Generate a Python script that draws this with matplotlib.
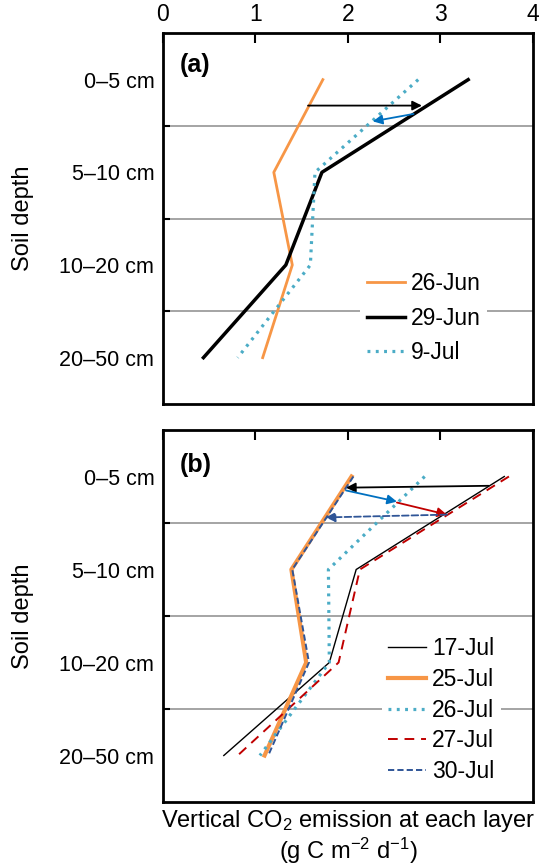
import numpy as np
import matplotlib
matplotlib.use("Agg")
import matplotlib.pyplot as plt

plt.rcParams['font.family'] = ['Liberation Sans', 'DejaVu Sans']
plt.rcParams['mathtext.fontset'] = 'custom'
plt.rcParams['mathtext.rm'] = 'Liberation Sans'
plt.rcParams['mathtext.it'] = 'Liberation Sans'
plt.rcParams['mathtext.default'] = 'regular'

# depth layers (top to bottom)
depths = ["0\u20135 cm", "5\u201310 cm", "10\u201320 cm", "20\u201350 cm"]

# panel (a): vertical CO2 emission (g C m-2 d-1)
jun26 = [1.73, 1.20, 1.40, 1.08]
jun29 = [3.30, 1.72, 1.33, 0.44]
jul09 = [2.76, 1.645, 1.595, 0.81]

# panel (b)
jul17 = [3.69, 2.09, 1.80, 0.66]
jul25 = [2.04, 1.39, 1.55, 1.10]
jul26 = [2.83, 1.79, 1.80, 1.05]
jul27 = [3.74, 2.13, 1.90, 0.81]
jul30 = [2.06, 1.40, 1.58, 1.14]

# arrows: (x_start, y_start, x_end, y_end, colour, linestyle), y in layer units
arrows_a = [(1.57, 0.28, 2.80, 0.28, "black", "-"),
            (2.71, 0.37, 2.27, 0.45, "#0070c0", "-")]
arrows_b = [(3.52, 0.10, 1.98, 0.12, "black", "-"),
            (1.98, 0.15, 2.53, 0.27, "#0070c0", "-"),
            (2.53, 0.28, 3.07, 0.41, "#c00000", "-"),
            (3.07, 0.41, 1.76, 0.44, "#2f5597", "--")]

ORANGE = "#f79646"
CYAN = "#4bacc6"
RED = "#c00000"
NAVY = "#2f5597"
DOTS = (0, (0.9, 1.7))

W, H = 541, 868
fig = plt.figure(figsize=(W / 100, H / 100), dpi=100)

def px_axes(left, top, right, bottom):
    return fig.add_axes([left / W, 1 - bottom / H, (right - left) / W, (bottom - top) / H])

ax_a = px_axes(162.7, 33.3, 533, 404)
ax_b = px_axes(162.7, 430, 533, 802)

ypos = np.arange(len(depths))

def style_axes(ax, show_xlabels):
    ax.set_xlim(0, 4)
    ax.set_ylim(3.5, -0.5)
    ax.set_yticks(ypos)
    ax.set_yticklabels(depths, fontsize=15.5)
    ax.set_yticks([0.5, 1.5, 2.5], minor=True)
    ax.tick_params(axis='y', which='major', length=0, pad=6)
    ax.tick_params(axis='y', which='minor', direction='in', length=5, width=1.5)
    ax.grid(True, axis='y', which='minor', color='#8c8c8c', lw=1.1)
    ax.set_xticks([0, 1, 2, 3, 4])
    ax.xaxis.set_ticks_position('top')
    ax.tick_params(axis='x', direction='in', length=7, width=1.5, pad=5,
                   labelsize=16.5, labeltop=show_xlabels, labelbottom=False)
    for s in ax.spines.values():
        s.set_linewidth(2)
    ax.set_axisbelow(True)

def draw_arrows(ax, arrows):
    for x0, y0, x1, y1, c, ls in arrows:
        ax.annotate("", xy=(x1, y1), xytext=(x0, y0),
                    arrowprops=dict(arrowstyle='-|>', color=c, lw=1.3, ls=ls,
                                    mutation_scale=14, shrinkA=0, shrinkB=0))

def white_legend(ax, anchor, spacing):
    leg = ax.legend(loc='upper left', bbox_to_anchor=anchor, borderaxespad=0,
                    fontsize=16.5, handlelength=1.65, handletextpad=0.25,
                    labelspacing=spacing, borderpad=0.3, frameon=True, fancybox=False)
    leg.get_frame().set_facecolor('white')
    leg.get_frame().set_edgecolor('none')
    leg.get_frame().set_alpha(1)

# ---- panel (a)
style_axes(ax_a, True)
ax_a.plot(jun26, ypos, color=ORANGE, lw=2, label="26-Jun")
ax_a.plot(jun29, ypos, color="black", lw=2.5, label="29-Jun")
ax_a.plot(jul09, ypos, color=CYAN, lw=2.3, ls=DOTS, label="9-Jul")
draw_arrows(ax_a, arrows_a)
ax_a.text(0.045, 0.915, "(a)", transform=ax_a.transAxes, fontsize=18,
          fontweight='bold', va='center', ha='left')
white_legend(ax_a, (0.533, 0.374), 0.5)

# ---- panel (b)
style_axes(ax_b, False)
ax_b.plot(jul17, ypos, color="black", lw=1, label="17-Jul")
ax_b.plot(jul25, ypos, color=ORANGE, lw=3, label="25-Jul")
ax_b.plot(jul26, ypos, color=CYAN, lw=2.3, ls=DOTS, label="26-Jul")
ax_b.plot(jul27, ypos, color=RED, lw=1.4, ls=(0, (5, 3.5)), label="27-Jul")
ax_b.plot(jul30, ypos, color=NAVY, lw=1.4, ls=(0, (3.2, 1.6)), label="30-Jul")
draw_arrows(ax_b, arrows_b)
ax_b.text(0.045, 0.906, "(b)", transform=ax_b.transAxes, fontsize=18,
          fontweight='bold', va='center', ha='left')
white_legend(ax_b, (0.591, 0.462), 0.34)

# axis titles
for yc in (218.7, 616):
    fig.text(23 / W, 1 - yc / H, "Soil depth", rotation=90, fontsize=17,
             ha='center', va='center')
fig.text(348 / W, 1 - 821 / H, "Vertical CO$_2$ emission at each layer",
         fontsize=17, ha='center', va='center')
fig.text(348 / W, 1 - 851 / H, "(g C m$^{\u22122}$ d$^{\u22121}$)",
         fontsize=17, ha='center', va='center')

fig.savefig("out.png", dpi=100)
